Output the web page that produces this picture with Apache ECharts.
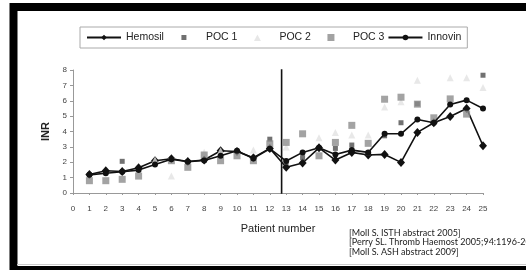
<!DOCTYPE html>
<html>
<head>
<meta charset="utf-8">
<script src="https://cdn.jsdelivr.net/npm/echarts@6/dist/echarts.min.js"></script>
<style>
  html, body { margin: 0; padding: 0; background: #fff; overflow: hidden; }
  #chart { width: 526px; height: 270px; }
</style>
</head>
<body>
<div id="chart"></div>
<script>
// ---- data ----
const patients = [1,2,3,4,5,6,7,8,9,10,11,12,13,14,15,16,17,18,19,20,21,22,23,24,25];
const hemosil = [1.2,1.45,1.4,1.64,2.1,2.23,2.05,2.15,2.75,2.7,2.3,2.9,1.67,1.95,2.94,2.14,2.64,2.47,2.51,1.99,3.94,4.57,4.98,5.5,3.07];
const poc1    = [null,null,2.06,null,null,null,null,null,null,null,null,3.5,2.0,2.3,null,2.9,3.12,2.6,3.72,4.57,5.8,8.05,8.05,8.05,7.66];
const poc2    = [null,null,null,null,2.15,1.1,null,2.65,2.75,null,2.8,null,3.0,null,3.6,3.94,3.77,3.77,5.6,5.93,7.34,null,7.49,7.49,6.86];
const poc3    = [0.8,0.8,0.89,1.1,null,2.1,1.67,2.47,2.1,2.42,2.1,3.2,3.29,3.85,2.42,3.29,4.4,3.23,6.1,6.23,5.78,4.89,6.12,5.13,null];
const innovin = [1.18,1.28,1.38,1.49,1.86,2.2,2.03,2.12,2.42,2.75,2.25,2.88,2.08,2.64,2.94,2.51,2.79,2.64,3.85,3.85,4.78,4.57,5.76,6.04,5.5];
const dividerX = 12.72;
const dividerTop = 8.7;
const xTicks = {min: 0, max: 25, interval: 1};
const yTicks = {min: 0, max: 8, interval: 1};
const references = [
  '[Moll S. ISTH abstract 2005]',
  '[Perry SL. Thromb Haemost 2005;94:1196-202]',
  '[Moll S. ASH abstract 2009]'
];

const pair = arr => patients.map((p, i) => [p, arr[i]]).filter(d => d[1] !== null);

const C_POC1 = '#4d4d4d', C_POC2 = '#e2e2e2', C_POC3 = '#8c8c8c';
const svgIcon = inner => 'image://data:image/svg+xml;charset=utf-8,' + encodeURIComponent(
  "<svg xmlns='http://www.w3.org/2000/svg' width='34' height='7' viewBox='0 0 34 7'>" + inner + "</svg>");
const iconPoc1 = svgIcon("<rect x='14.5' y='1' width='5' height='5' fill='" + C_POC1 + "'/>");
const iconPoc2 = svgIcon("<polygon points='13.5,7 20.5,7 17,0.5' fill='" + C_POC2 + "'/>");
const iconPoc3 = svgIcon("<rect x='13.5' y='0' width='7' height='7' fill='" + C_POC3 + "'/>");

const chart = echarts.init(document.getElementById('chart'), null, {renderer: 'canvas'});
const font = 'Liberation Sans, Arial, sans-serif';

chart.setOption({
  backgroundColor: '#fff',
  animation: false,
  textStyle: {fontFamily: font},
  legend: {
    left: 80, top: 27,
    padding: [5, 6],
    borderColor: '#aaa', borderWidth: 1,
    itemGap: 3, itemWidth: 34, itemHeight: 7,
    textStyle: {fontSize: 10.5, color: '#222', fontFamily: font},
    data: [
      {name: 'Hemosil'},
      {name: 'POC 1', icon: iconPoc1},
      {name: 'POC 2', icon: iconPoc2},
      {name: 'POC 3', icon: iconPoc3},
      {name: 'Innovin'}
    ]
  },
  grid: {left: 73, right: 43, top: 70, bottom: 77},
  xAxis: {
    type: 'value', min: xTicks.min, max: xTicks.max, interval: xTicks.interval,
    name: 'Patient number', nameLocation: 'middle', nameGap: 30,
    nameTextStyle: {fontSize: 11, color: '#222', fontFamily: font},
    axisLine: {lineStyle: {color: '#999', width: 1}},
    axisTick: {show: true, length: 2, lineStyle: {color: '#999'}},
    axisLabel: {fontSize: 8, color: '#444', margin: 12, fontFamily: font},
    splitLine: {show: false}
  },
  yAxis: {
    type: 'value', min: yTicks.min, max: yTicks.max, interval: yTicks.interval,
    name: 'INR', nameLocation: 'middle', nameGap: 14,
    nameTextStyle: {fontSize: 11, color: '#222', fontWeight: 'bold', fontFamily: font},
    axisLine: {show: true, lineStyle: {color: '#999', width: 1}},
    axisTick: {show: true, length: 3, lineStyle: {color: '#999'}},
    axisLabel: {fontSize: 8, color: '#444', margin: 6, fontFamily: font},
    splitLine: {show: false}
  },
  graphic: [
    // picture frame (slide border), drawn as thick strokes
    {type: 'polyline', shape: {points: [[13.5, 270], [13.5, 7], [526, 7]]},
     style: {stroke: '#000', lineWidth: 8, fill: null}, z: 100},
    {type: 'line', shape: {x1: 10, y1: 268, x2: 526, y2: 268},
     style: {stroke: '#000', lineWidth: 4}, z: 100},
    {type: 'line', shape: {x1: 17, y1: 264.5, x2: 526, y2: 264.5},
     style: {stroke: '#ccc', lineWidth: 1}, z: 100},
    {
      type: 'text', left: 349, top: 228,
      style: {text: references.join('\n'), fontSize: 9, lineHeight: 9.6, fill: '#222',
              fontFamily: 'Lato, Open Sans, sans-serif'}
    }
  ],
  series: [
    {
      name: 'divider', type: 'line', data: [[dividerX, yTicks.min - 0.15], [dividerX, dividerTop]],
      symbol: 'none', lineStyle: {color: '#111', width: 1.6}, silent: true, z: 1
    },
    {
      name: 'Hemosil', type: 'line', data: pair(hemosil),
      symbol: 'diamond', symbolSize: [8, 9], showAllSymbol: true,
      itemStyle: {color: '#111'}, lineStyle: {color: '#111', width: 1.6}, z: 2
    },
    {
      name: 'POC 1', type: 'scatter', data: pair(poc1),
      symbol: 'rect', symbolSize: 5, itemStyle: {color: C_POC1}, z: 3
    },
    {
      name: 'POC 2', type: 'scatter', data: pair(poc2),
      symbol: 'triangle', symbolSize: 7, itemStyle: {color: C_POC2}, z: 3
    },
    {
      name: 'POC 3', type: 'scatter', data: pair(poc3),
      symbol: 'rect', symbolSize: 7, itemStyle: {color: C_POC3}, z: 3
    },
    {
      name: 'Innovin', type: 'line', data: pair(innovin),
      symbol: 'circle', symbolSize: 6, showAllSymbol: true,
      itemStyle: {color: '#111'}, lineStyle: {color: '#111', width: 1.6}, z: 4
    }
  ]
});
</script>
</body>
</html>
